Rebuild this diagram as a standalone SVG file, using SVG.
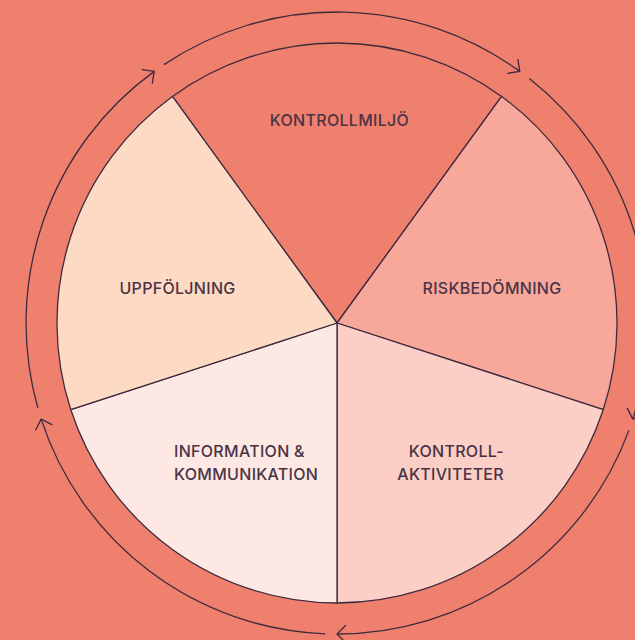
<svg xmlns="http://www.w3.org/2000/svg" width="635" height="640" viewBox="0 0 635 640">
  <style>
    .slice { stroke: #3D2A3E; stroke-width: 1.3; stroke-linejoin: round; }
    .ring { fill: none; stroke: #3D2A3E; stroke-width: 1.3; }
    .lbl { font-family: Inter, "Liberation Sans", sans-serif; font-size: 16px; font-weight: 500; fill: #4A3346; letter-spacing: 0.3px; }
  </style>
  <defs>
    <marker id="arr" markerUnits="userSpaceOnUse" markerWidth="20" markerHeight="20" viewBox="-10 -10 20 20" refX="0" refY="0" orient="auto" overflow="visible">
      <path d="M-8.5,-8.5 L0,0 L-8.5,8.5" fill="none" stroke="#3D2A3E" stroke-width="1.3" stroke-linecap="round" stroke-linejoin="round"/>
    </marker>
  </defs>
  <rect width="635" height="640" fill="#F0806E"/>

  <g id="kontrollmiljo">
    <path class="slice" fill="#F0806E" d="M337,323 L172.42,96.48 A280,280 0 0 1 501.58,96.48 Z"/>
    <text class="lbl" x="339.5" y="126" text-anchor="middle">KONTROLLMILJÖ</text>
  </g>
  <g id="riskbedomning">
    <path class="slice" fill="#F7A89B" d="M337,323 L501.58,96.48 A280,280 0 0 1 603.29,409.53 Z"/>
    <text class="lbl" x="492" y="294" text-anchor="middle">RISKBEDÖMNING</text>
  </g>
  <g id="kontrollaktiviteter">
    <path class="slice" fill="#FBCEC6" d="M337,323 L603.29,409.53 A280,280 0 0 1 337,603 Z"/>
    <text class="lbl" x="504" y="457" text-anchor="end">KONTROLL-</text>
    <text class="lbl" x="504" y="480" text-anchor="end">AKTIVITETER</text>
  </g>
  <g id="information">
    <path class="slice" fill="#FDE8E3" d="M337,323 L337,603 A280,280 0 0 1 70.71,409.53 Z"/>
    <text class="lbl" x="174" y="457">INFORMATION &amp;</text>
    <text class="lbl" x="174" y="480">KOMMUNIKATION</text>
  </g>
  <g id="uppfoljning">
    <path class="slice" fill="#FDDAC4" d="M337,323 L70.71,409.53 A280,280 0 0 1 172.42,96.48 Z"/>
    <text class="lbl" x="177.5" y="294" text-anchor="middle">UPPFÖLJNING</text>
  </g>

  <g id="connectors">
    <path class="ring" marker-end="url(#arr)" d="M37.8,407.7 A311,311 0 0 1 154.2,71.4"/>
    <path class="ring" marker-end="url(#arr)" d="M164.0,64.6 A311,311 0 0 1 519.8,71.4"/>
    <path class="ring" marker-end="url(#arr)" d="M529.3,78.6 A311,311 0 0 1 632.8,419.1"/>
    <path class="ring" marker-end="url(#arr)" d="M628.9,430.4 A311,311 0 0 1 337,634"/>
    <path class="ring" marker-end="url(#arr)" d="M325.1,633.8 A311,311 0 0 1 41.2,419.1"/>
  </g>
</svg>
